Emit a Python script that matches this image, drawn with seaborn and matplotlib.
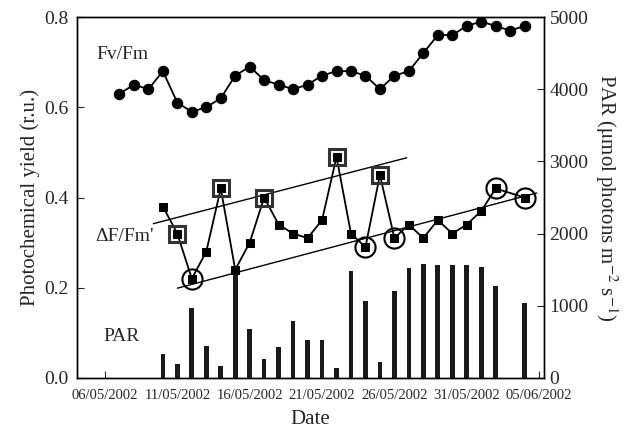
import matplotlib
matplotlib.use("Agg")
import matplotlib.pyplot as plt
import seaborn as sns
import numpy as np

sns.set_style("ticks")
plt.rcParams['font.family'] = ['Liberation Serif', 'DejaVu Serif']
plt.rcParams['mathtext.fontset'] = 'stix'

# x = days after 06/05/2002
fv_days = [1, 2, 3, 4, 5, 6, 7, 8, 9, 10, 11, 12, 13, 14, 15, 16, 17, 18, 19, 20,
           21, 22, 23, 24, 25, 26, 27, 28, 29]
fv_vals = [0.63, 0.65, 0.64, 0.68, 0.61, 0.59, 0.60, 0.62, 0.67, 0.69, 0.66, 0.65,
           0.64, 0.65, 0.67, 0.68, 0.68, 0.67, 0.64, 0.67, 0.68, 0.72, 0.76, 0.76,
           0.78, 0.79, 0.78, 0.77, 0.78]

df_days = [4, 5, 6, 7, 8, 9, 10, 11, 12, 13, 14, 15, 16, 17, 18, 19, 20, 21, 22, 23,
           24, 25, 26, 27, 29]
df_vals = [0.38, 0.32, 0.22, 0.28, 0.42, 0.24, 0.30, 0.40, 0.34, 0.32, 0.31, 0.35,
           0.49, 0.32, 0.29, 0.45, 0.31, 0.34, 0.31, 0.35, 0.32, 0.34, 0.37, 0.42, 0.40]

par_days = df_days
par_vals = [330, 200, 975, 445, 170, 1485, 680, 260, 430, 785, 530, 525, 145, 1480,
            1070, 225, 1205, 1530, 1580, 1570, 1560, 1570, 1535, 1275, 1035]

square_days = [5, 8, 11, 16, 19]
square_vals = [0.32, 0.42, 0.40, 0.49, 0.45]
circle_days = [6, 18, 20, 27, 29]
circle_vals = [0.22, 0.29, 0.31, 0.42, 0.40]

upper_days = [3.34, 20.85]
upper_vals = [0.342, 0.488]
lower_days = [5.0, 29.83]
lower_vals = [0.199, 0.41]

tick_days = [0, 5, 10, 15, 20, 25, 30]
tick_labels = ["06/05/2002", "11/05/2002", "16/05/2002", "21/05/2002",
               "26/05/2002", "31/05/2002", "05/06/2002"]

fig = plt.figure(figsize=(6.34, 4.29), dpi=100)
ax = fig.add_axes([77/634, 1-378/429, (544-77)/634, (378-17)/429])
ax2 = ax.twinx()

sns.barplot(x=par_days, y=par_vals, native_scale=True, width=0.32, color='#1a1a1a',
            saturation=1, ax=ax2, errorbar=None, linewidth=0)
ax2.set_ylim(0, 5000)
ax2.set_yticks([0, 1000, 2000, 3000, 4000, 5000])

ax.set_zorder(ax2.get_zorder() + 1)
ax.patch.set_visible(False)

sns.lineplot(x=upper_days, y=upper_vals, color='black', linewidth=1.0, ax=ax)
sns.lineplot(x=lower_days, y=lower_vals, color='black', linewidth=1.0, ax=ax)

sns.lineplot(x=fv_days, y=fv_vals, color='black', marker='o', markersize=7.5,
             markeredgecolor='black', linewidth=1.3, ax=ax)
sns.lineplot(x=df_days, y=df_vals, color='black', marker='s', markersize=6,
             markeredgecolor='black', linewidth=1.3, ax=ax)

ax.plot(square_days, square_vals, linestyle='none', marker='s', markersize=11,
        markerfacecolor='none', markeredgecolor='#333333', markeredgewidth=2.2)
ax.plot(circle_days, circle_vals, linestyle='none', marker='o', markersize=14.5,
        markerfacecolor='none', markeredgecolor='black', markeredgewidth=1.5)

ax.set_xlim(-1.935, 30.34)
ax.set_ylim(0, 0.8)
ax.set_yticks([0.0, 0.2, 0.4, 0.6, 0.8])
ax.set_yticklabels(["0.0", "0.2", "0.4", "0.6", "0.8"])
ax.set_xticks(tick_days)
ax.set_xticklabels(tick_labels, fontsize=10.5)

ax.tick_params(axis='y', direction='in', length=5, labelsize=14, pad=6)
ax.tick_params(axis='x', direction='in', length=5, pad=8)
ax2.tick_params(axis='y', direction='in', length=5, labelsize=14, pad=4)

for a in (ax, ax2):
    for s in a.spines.values():
        s.set_visible(True)
        s.set_linewidth(1.0)
        s.set_color('black')

ax.set_xlabel("Date", fontsize=15, labelpad=6)
ax.set_ylabel("Photochemical yield (r.u.)", fontsize=15, labelpad=3)
ax2.set_ylabel(r"PAR ($\mathrm{\mu}$mol photons m$^{-2}$ s$^{-1}$)", fontsize=15,
               rotation=270, labelpad=22)

ax.text(-0.6, 0.718, "Fv/Fm", fontsize=14, va='center', ha='left')
ax.text(-0.7, 0.313, "\u0394F/Fm'", fontsize=14, va='center', ha='left')
ax.text(-0.1, 0.091, "PAR", fontsize=14, va='center', ha='left')

fig.savefig("out.png", dpi=100)
